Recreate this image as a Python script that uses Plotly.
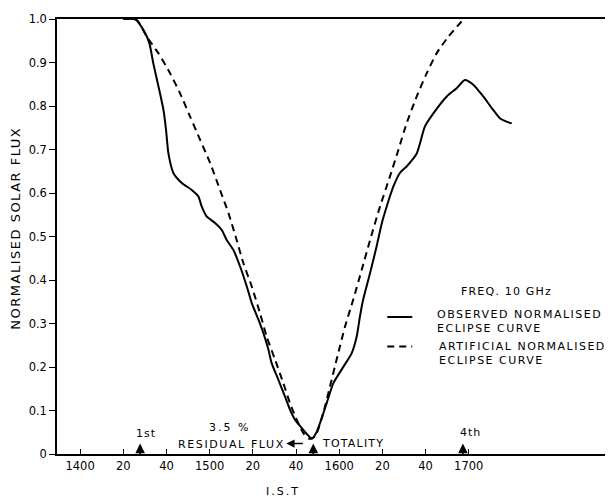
import plotly.graph_objects as go

# x values: minutes after 14:00 IST
tick_vals = [0, 20, 40, 60, 80, 100, 120, 140, 160, 180]
tick_text = ["1400", "20", "40", "1500", "20", "40", "1600", "20", "40", "1700"]
y_tick_vals = [0, 0.1, 0.2, 0.3, 0.4, 0.5, 0.6, 0.7, 0.8, 0.9, 1.0]
y_tick_text = ["0", "0.1", "0.2", "0.3", "0.4", "0.5", "0.6", "0.7", "0.8", "0.9", "1.0"]

obs_x = [20, 25.5, 29.3, 32.1, 33.9, 36.3, 38.6, 39.8, 40.9, 43.2, 47.1, 51.7, 54.8,
         56.3, 58.6, 62.5, 65.6, 67.9, 71.0, 74.1, 77.2, 79.5, 82.6, 84.9, 87.2, 88.7,
         91.8, 94.9, 97.2, 99.5, 102.6, 105.2, 107.3, 109.5, 111.1, 114.2, 117.3, 121.1,
         125.8, 128.1, 129.6, 131.1, 134.3, 137.3, 139.7, 142.0, 145.1, 148.1, 151.2,
         155.9, 159.7, 163.6, 169.8, 174.4, 178.2, 182.1, 186.7, 191.3, 194.4, 197.5, 199.9]
obs_y = [1.0, 0.999, 0.975, 0.944, 0.898, 0.845, 0.791, 0.745, 0.691, 0.646, 0.623, 0.607,
         0.592, 0.569, 0.546, 0.531, 0.515, 0.492, 0.469, 0.431, 0.385, 0.347, 0.309, 0.278,
         0.240, 0.209, 0.171, 0.132, 0.102, 0.079, 0.060, 0.045, 0.035, 0.050, 0.071, 0.117,
         0.163, 0.194, 0.232, 0.270, 0.316, 0.355, 0.416, 0.477, 0.530, 0.569, 0.615, 0.646,
         0.661, 0.691, 0.753, 0.783, 0.822, 0.841, 0.860, 0.849, 0.822, 0.791, 0.772, 0.764,
         0.760]

art_x = [20, 26.2, 30.9, 36.3, 41.7, 46.3, 50.9, 55.6, 60.2, 64.8, 68.7, 72.5, 75.6, 79.5,
         83.3, 86.4, 90.3, 94.1, 97.2, 100.3, 103.4, 106.0, 108.8, 112.6, 115.7, 118.8,
         122.7, 126.5, 130.4, 134.3, 138.9, 143.5, 147.4, 151.2, 155.9, 160.5, 165.1,
         170.5, 177.5]
art_y = [1.0, 0.998, 0.959, 0.921, 0.875, 0.829, 0.776, 0.722, 0.669, 0.607, 0.554, 0.492,
         0.439, 0.385, 0.324, 0.270, 0.217, 0.163, 0.117, 0.079, 0.048, 0.035, 0.040, 0.094,
         0.155, 0.217, 0.293, 0.355, 0.423, 0.492, 0.569, 0.638, 0.699, 0.760, 0.822, 0.875,
         0.921, 0.959, 0.999]

contact_x = [27.8, 108.0, 177.3]   # 1st contact, totality, 4th contact
contact_labels = ["1st", "", "4th"]

FONT = "DejaVu Sans"


def spaced(t, s=1.5):
    return '<span style="letter-spacing:%spx">%s</span>' % (s, t)


def tf(size=11):
    return dict(size=size, family=FONT, color="black")


fig = go.Figure()
fig.add_trace(go.Scatter(x=obs_x, y=obs_y, mode="lines",
                         line=dict(color="black", width=2, shape="spline", smoothing=0.6),
                         showlegend=False))
fig.add_trace(go.Scatter(x=art_x, y=art_y, mode="lines",
                         line=dict(color="black", width=2, dash="7px,5px", shape="spline", smoothing=0.6),
                         showlegend=False))

ann = []
for cx in contact_x:
    ann.append(dict(x=cx, y=0.024, xref="x", yref="y", ax=0, ay=12, text="",
                    showarrow=True, arrowhead=2, arrowsize=1.2, arrowwidth=1.6, arrowcolor="black"))
ann.append(dict(x=contact_x[0] + 2.5, y=0.047, xref="x", yref="y", text=spaced(contact_labels[0], 1),
                showarrow=False, font=tf(11)))
ann.append(dict(x=contact_x[2] + 3.3, y=0.049, xref="x", yref="y", text=spaced(contact_labels[2], 1),
                showarrow=False, font=tf(11)))
ann.append(dict(x=69.4, y=0.062, xref="x", yref="y", text=spaced("3.5 %", 2),
                showarrow=False, font=tf(11)))
ann.append(dict(x=70.2, y=0.022, xref="x", yref="y", text=spaced("RESIDUAL FLUX", 1.6),
                showarrow=False, font=tf(11)))
ann.append(dict(x=95.5, y=0.024, xref="x", yref="y", ax=18, ay=0, text="",
                showarrow=True, arrowhead=2, arrowsize=1.1, arrowwidth=1.5, arrowcolor="black"))
ann.append(dict(x=126.4, y=0.024, xref="x", yref="y", text=spaced("TOTALITY", 1.2),
                showarrow=False, font=tf(11)))

# legend block
ann.append(dict(x=0.808, y=0.373, xref="paper", yref="paper", xanchor="center", yanchor="middle",
                text=spaced("FREQ. 10 GHz", 1.2), showarrow=False, font=tf(11)))
ann.append(dict(x=0.680, y=0.304, xref="paper", yref="paper", xanchor="left", yanchor="middle",
                align="left", text=spaced("OBSERVED NORMALISED") + "<br>" + spaced("ECLIPSE CURVE"),
                showarrow=False, font=tf(11)))
ann.append(dict(x=0.684, y=0.230, xref="paper", yref="paper", xanchor="left", yanchor="middle",
                align="left", text=spaced("ARTIFICIAL NORMALISED") + "<br>" + spaced("ECLIPSE CURVE"),
                showarrow=False, font=tf(11)))

# axis titles
ann.append(dict(x=0.407, y=-0.087, xref="paper", yref="paper", xanchor="center", yanchor="middle",
                text=spaced("I.S.T", 2), showarrow=False, font=tf(11)))
ann.append(dict(x=-0.074, y=0.52, xref="paper", yref="paper", xanchor="center", yanchor="middle",
                text=spaced("NORMALISED SOLAR FLUX", 1.5),
                textangle=-90, showarrow=False, font=tf(13)))

shapes = [
    dict(type="line", xref="paper", yref="paper", x0=0.594, x1=0.639, y0=0.315, y1=0.315,
         line=dict(color="black", width=2)),
    dict(type="line", xref="paper", yref="paper", x0=0.594, x1=0.639, y0=0.247, y1=0.247,
         line=dict(color="black", width=2, dash="7px,5px")),
]

# the page body adds an 8px offset; size the figure so the plot area lands in place
fig.update_layout(
    width=605, height=489,
    margin=dict(l=49, r=0, t=11, b=43),
    paper_bgcolor="white", plot_bgcolor="white",
    annotations=ann, shapes=shapes,
    showlegend=False,
    xaxis=dict(range=[-10.7, 246.8], tickvals=tick_vals, ticktext=tick_text,
               ticks="inside", ticklen=5, tickwidth=1.2, tickcolor="black",
               showline=True, linecolor="black", linewidth=1.5, mirror=True,
               showgrid=False, zeroline=False,
               tickfont=tf(11.5)),
    yaxis=dict(range=[0, 1.0], tickvals=y_tick_vals, ticktext=y_tick_text,
               ticks="outside", ticklen=6, tickwidth=1.2, tickcolor="black",
               showline=True, linecolor="black", linewidth=1.5,
               showgrid=False, zeroline=False,
               tickfont=tf(11.5)),
)

fig.write_html("out.html")
